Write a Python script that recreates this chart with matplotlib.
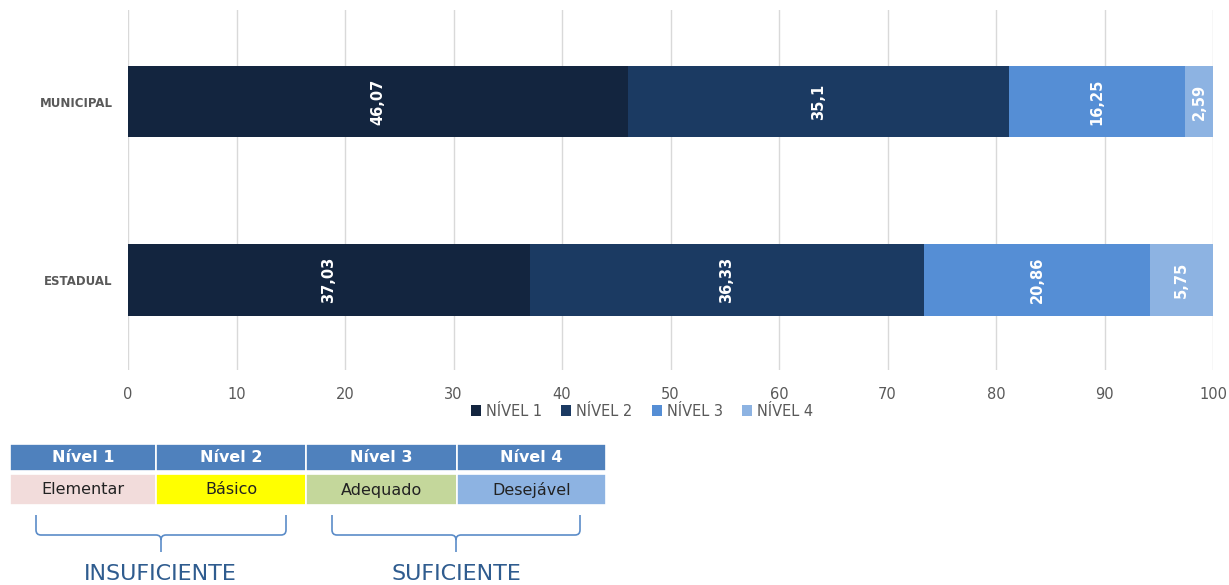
import matplotlib
matplotlib.use("Agg")
import matplotlib.pyplot as plt
from matplotlib.patches import Rectangle, PathPatch
from matplotlib.path import Path
import numpy as np

categories = ["ESTADUAL", "MUNICIPAL"]
series_names = ["NÍVEL 1", "NÍVEL 2", "NÍVEL 3", "NÍVEL 4"]
nivel1 = [37.03, 46.07]
nivel2 = [36.33, 35.1]
nivel3 = [20.86, 16.25]
nivel4 = [5.75, 2.59]
label_text = [["37,03", "46,07"], ["36,33", "35,1"], ["20,86", "16,25"], ["5,75", "2,59"]]
x_ticks = [0, 10, 20, 30, 40, 50, 60, 70, 80, 90, 100]
colors = ["#13253F", "#1B3A62", "#558ED5", "#8DB3E2"]

table_headers = ["Nível 1", "Nível 2", "Nível 3", "Nível 4"]
table_names = ["Elementar", "Básico", "Adequado", "Desejável"]
table_colors = ["#F2DCDB", "#FFFF00", "#C4D79B", "#8DB3E2"]
groups = ["INSUFICIENTE", "SUFICIENTE"]

W, H = 1229, 585
fig = plt.figure(figsize=(W / 100, H / 100), dpi=100)
ax = fig.add_axes([128 / W, 1 - 370 / H, (1213 - 128) / W, 360 / H])

series = [nivel1, nivel2, nivel3, nivel4]
ypos = np.arange(len(categories))
left = np.zeros(len(categories))
for i, vals in enumerate(series):
    vals = np.array(vals)
    ax.barh(ypos, vals, left=left, height=0.4, color=colors[i], label=series_names[i], zorder=3)
    for j in range(len(categories)):
        ax.text(left[j] + vals[j] / 2, ypos[j], label_text[i][j], rotation=90,
                ha="center", va="center", color="white", fontsize=10.5, fontweight="bold", zorder=4)
    left += vals

ax.set_xlim(0, 100)
ax.set_ylim(-0.504, 1.513)
ax.set_xticks(x_ticks)
ax.set_yticks(ypos)
ax.set_yticklabels(categories, fontsize=8.5, fontweight="bold", color="#595959")
ax.tick_params(axis="x", labelsize=10.5, colors="#595959", length=0, pad=12)
ax.tick_params(axis="y", length=0, pad=11)
ax.grid(axis="x", color="#D9D9D9", linewidth=1, zorder=0)
for s in ax.spines.values():
    s.set_visible(False)

handles, labels = ax.get_legend_handles_labels()
leg = fig.legend(handles, labels, loc="center", bbox_to_anchor=(642 / W, 1 - 411 / H), ncol=4,
                 frameon=False, fontsize=10.5, handlelength=0.7, handleheight=0.7,
                 handletextpad=0.35, columnspacing=1.3)
for t in leg.get_texts():
    t.set_color("#595959")

# Bottom reference table
ov = fig.add_axes([0, 0, 1, 1])
ov.set_xlim(0, W)
ov.set_ylim(H, 0)
ov.axis("off")
xs = [10, 156, 306, 457, 606]
for i in range(4):
    x0, x1 = xs[i], xs[i + 1]
    ov.add_patch(Rectangle((x0, 444), x1 - x0, 27, facecolor="#4F81BD", edgecolor="white", linewidth=1.2))
    ov.text((x0 + x1) / 2, 458, table_headers[i], ha="center", va="center", color="white",
            fontsize=11.5, fontweight="bold")
    ov.add_patch(Rectangle((x0, 474), x1 - x0, 31, facecolor=table_colors[i], edgecolor="white", linewidth=1.2))
    ov.text((x0 + x1) / 2, 490, table_names[i], ha="center", va="center", color="#222222", fontsize=11.5)

def brace(x0, x1, ytop, ymid, ybot):
    xm = (x0 + x1) / 2
    r = 5
    verts = [(x0, ytop), (x0, ymid - r), (x0, ymid), (x0 + r, ymid),
             (xm - r, ymid), (xm, ymid), (xm, ymid + r), (xm, ybot),
             (xm, ymid + r), (xm, ymid), (xm + r, ymid),
             (x1 - r, ymid), (x1, ymid), (x1, ymid - r), (x1, ytop)]
    codes = [Path.MOVETO, Path.LINETO, Path.CURVE3, Path.CURVE3,
             Path.LINETO, Path.CURVE3, Path.CURVE3, Path.LINETO,
             Path.MOVETO, Path.CURVE3, Path.CURVE3,
             Path.LINETO, Path.CURVE3, Path.CURVE3, Path.LINETO]
    ov.add_patch(PathPatch(Path(verts, codes), facecolor="none", edgecolor="#5B8CC8", linewidth=1.2))

brace(36, 286, 515, 535, 552)
brace(332, 580, 515, 535, 552)
ov.text(160, 574, groups[0], ha="center", va="center", color="#2F5C8F", fontsize=16)
ov.text(456, 574, groups[1], ha="center", va="center", color="#2F5C8F", fontsize=16)

fig.savefig("out.png", dpi=100)
